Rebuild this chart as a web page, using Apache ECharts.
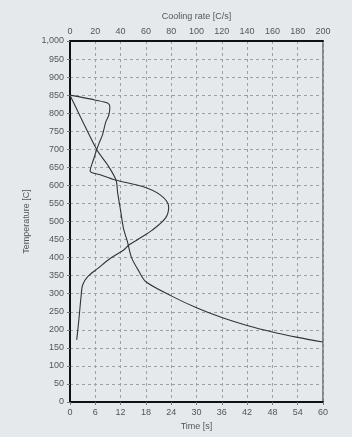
<!DOCTYPE html>
<html><head><meta charset="utf-8">
<script src="https://cdn.jsdelivr.net/npm/echarts@6/dist/echarts.min.js"></script>
<style>html,body{margin:0;padding:0;background:#e6e9eb;}#c{width:352px;height:437px;}</style>
</head><body><div id="c"></div>
<script>
// Temperature vs time (bottom axis)
const timeS = [0, 2.6, 6.4, 8.9, 10.9, 11.3, 12.0, 12.7, 13.6, 14.6, 16.3, 18, 24, 30, 36, 42, 48, 54, 60];
const tempByTime = [850, 787, 698, 657, 615, 580, 530, 480, 445, 400, 363, 333, 294, 261, 234, 212, 194, 179, 166];
// Temperature vs cooling rate (top axis)
const coolRate = [0, 20.5, 29.7, 31.5, 30.7, 28.3, 25.7, 23, 21, 19, 15.9, 24.4, 36, 58, 71.6, 78, 75.6, 65, 53, 46.5, 42.5, 32, 22, 14, 10, 8.7, 7, 5.3];
const tempByRate = [850, 836, 828, 818, 795, 776, 740, 717, 698, 676, 640, 629, 615, 596, 573, 541, 510, 476, 449, 435, 421, 398, 370, 347, 324, 291, 227, 172];
const timeTicks = {min: 0, max: 60, interval: 6};
const rateTicks = {min: 0, max: 200, interval: 20};
const tempTicks = {min: 0, max: 1000, interval: 50};

const lbl = {color: '#555', fontSize: 9, fontFamily: 'Liberation Sans, Arial, sans-serif'};
const chart = echarts.init(document.getElementById('c'));
chart.setOption({
  backgroundColor: 'transparent',
  animation: false,
  grid: {left: 70, right: 29, top: 41, bottom: 35, show: true, borderColor: '#222', borderWidth: 1},
  xAxis: [
    {type: 'value', position: 'bottom', ...timeTicks, name: 'Time [s]', nameLocation: 'middle', nameGap: 19,
     nameTextStyle: lbl, axisLabel: {...lbl, margin: 6},
     axisLine: {show: true, onZero: false, lineStyle: {color: '#111', width: 2}},
     axisTick: {show: true, length: 3, lineStyle: {color: '#777'}},
     splitLine: {show: true, lineStyle: {color: '#a0a0a0', type: [3, 3], width: 1}}},
    {type: 'value', position: 'top', ...rateTicks, name: 'Cooling rate [C/s]', nameLocation: 'middle', nameGap: 20,
     nameTextStyle: lbl, axisLabel: {...lbl, margin: 5},
     axisLine: {show: true, onZero: false, lineStyle: {color: '#111', width: 2}},
     axisTick: {show: false}, splitLine: {show: false}}
  ],
  yAxis: {type: 'value', ...tempTicks, name: 'Temperature [C]', nameLocation: 'middle', nameGap: 30,
     nameTextStyle: lbl,
     axisLabel: {...lbl, margin: 6, formatter: v => v.toLocaleString('en-US')},
     axisLine: {show: true, onZero: false, lineStyle: {color: '#111', width: 2}},
     axisTick: {show: true, length: 3, lineStyle: {color: '#777'}},
     splitLine: {show: true, lineStyle: {color: '#a0a0a0', type: [3, 3], width: 1}}},
  series: [
    {type: 'line', xAxisIndex: 0, data: timeS.map((t, i) => [t, tempByTime[i]]), smooth: 0.3,
     smoothMonotone: 'none', showSymbol: false, lineStyle: {color: '#333', width: 1.1}},
    {type: 'line', xAxisIndex: 1, data: coolRate.map((r, i) => [r, tempByRate[i]]), smooth: 0.3,
     showSymbol: false, lineStyle: {color: '#333', width: 1.1}}
  ]
});
</script></body></html>
